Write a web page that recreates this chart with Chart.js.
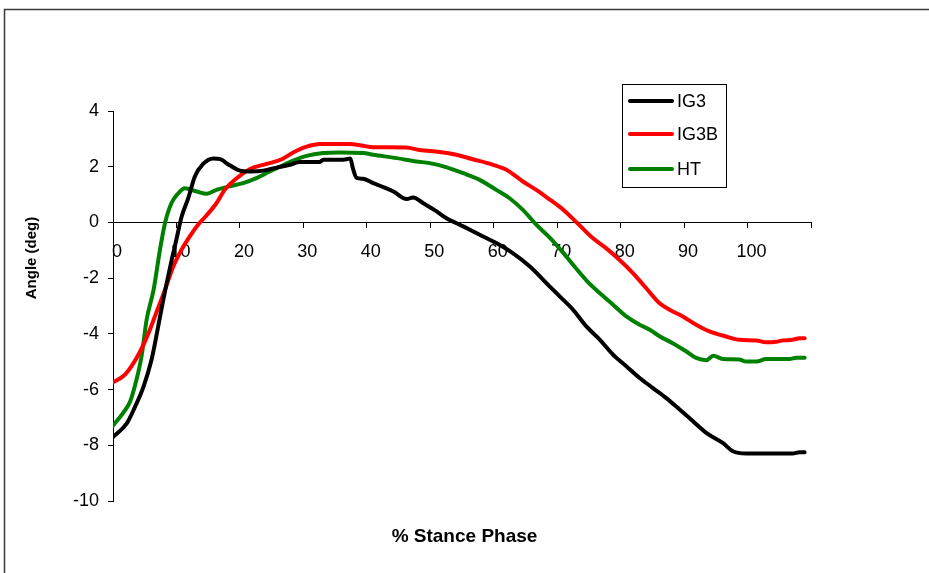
<!DOCTYPE html>
<html><head><meta charset="utf-8">
<script src="https://cdn.jsdelivr.net/npm/chart.js@4"></script>
<style>html,body{margin:0;padding:0;background:#fff;overflow:hidden}canvas{display:block}</style>
</head><body>
<canvas id="c" width="929" height="573"></canvas>
<script>
const seriesNames = ['IG3', 'IG3B', 'HT'];
const seriesColors = ['#000000', '#FF0000', '#008000'];

const ig3X = [0, 2.2, 3.5, 4.8, 6.1, 6.9, 7.9, 9.0, 10.0, 10.8, 11.9, 12.9, 14.2, 15.8, 16.9, 18.4, 20.0, 21.6, 23.7, 25.8, 27.9, 29.4, 32.6, 33.1, 35.8, 36.8, 37.4, 37.8, 38.4, 39.4, 41.0, 42.6, 44.2, 46.3, 47.3, 48.9, 51.0, 52.5, 55.2, 57.8, 60.4, 63.0, 65.7, 68.8, 70.4, 72.5, 74.6, 76.7, 78.8, 80.9, 83.0, 85.1, 87.2, 89.3, 91.4, 93.5, 96.1, 97.7, 99.8, 101.9, 107.1, 108.2, 109];
const ig3Y = [-7.7, -7.2, -6.6, -5.9, -4.9, -4.0, -2.8, -1.6, -0.6, 0.2, 0.9, 1.65, 2.1, 2.3, 2.27, 2.05, 1.86, 1.83, 1.86, 1.97, 2.07, 2.17, 2.17, 2.25, 2.25, 2.27, 2.3, 1.95, 1.6, 1.57, 1.41, 1.27, 1.11, 0.84, 0.9, 0.69, 0.4, 0.16, -0.14, -0.44, -0.74, -1.1, -1.58, -2.29, -2.65, -3.13, -3.73, -4.2, -4.74, -5.16, -5.58, -5.94, -6.3, -6.71, -7.13, -7.55, -7.91, -8.21, -8.29, -8.29, -8.29, -8.24, -8.24];

const ig3bX = [0, 1.6, 2.9, 4.3, 5.6, 6.9, 8.2, 9.5, 10.8, 12.1, 13.4, 14.8, 16.3, 17.6, 19.2, 21.6, 24.2, 26.6, 28.4, 30.5, 32.6, 35.7, 37.3, 39.4, 41.0, 46.2, 48.3, 51.5, 54.1, 56.7, 59.9, 62.0, 64.6, 66.7, 68.9, 71.0, 73.3, 75.6, 77.7, 79.8, 81.9, 84.0, 86.1, 87.7, 89.8, 91.9, 94.0, 96.6, 98.7, 101.4, 102.9, 104.5, 105.6, 107.1, 108.2, 109];
const ig3bY = [-5.73, -5.52, -5.16, -4.62, -3.97, -3.19, -2.41, -1.58, -0.98, -0.5, -0.08, 0.27, 0.69, 1.17, 1.53, 1.92, 2.1, 2.27, 2.51, 2.72, 2.82, 2.82, 2.82, 2.75, 2.7, 2.69, 2.6, 2.53, 2.43, 2.27, 2.07, 1.89, 1.47, 1.17, 0.81, 0.45, -0.05, -0.56, -0.92, -1.34, -1.81, -2.35, -2.89, -3.13, -3.37, -3.67, -3.91, -4.09, -4.21, -4.23, -4.3, -4.28, -4.23, -4.21, -4.15, -4.15];

const htX = [0, 1.6, 2.7, 3.7, 4.5, 5.3, 6.4, 7.4, 8.2, 9.2, 10.3, 11.3, 13.2, 14.8, 16.3, 17.9, 20.5, 22.6, 24.7, 26.3, 28.4, 30.5, 33.1, 35.7, 39.4, 41.0, 44.7, 47.8, 49.9, 52.6, 55.2, 57.8, 60.4, 62.5, 64.6, 66.7, 68.9, 71.0, 72.8, 74.7, 76.7, 78.8, 80.9, 83.0, 84.6, 86.2, 88.2, 90.3, 91.9, 93.5, 94.6, 96.1, 98.7, 99.8, 101.4, 102.9, 106.6, 107.7, 109];
const htY = [-7.29, -6.83, -6.42, -5.64, -4.8, -3.49, -2.41, -0.98, -0.02, 0.69, 1.05, 1.23, 1.11, 1.03, 1.17, 1.27, 1.41, 1.59, 1.83, 2.0, 2.22, 2.39, 2.49, 2.51, 2.49, 2.43, 2.31, 2.19, 2.13, 1.98, 1.77, 1.53, 1.17, 0.87, 0.45, -0.08, -0.56, -1.1, -1.6, -2.1, -2.53, -2.95, -3.37, -3.67, -3.85, -4.09, -4.33, -4.62, -4.86, -4.94, -4.78, -4.9, -4.92, -4.99, -4.99, -4.9, -4.9, -4.85, -4.85];

const xTickValues = [0, 10, 20, 30, 40, 50, 60, 70, 80, 90, 100];
const yTickValues = [-10, -8, -6, -4, -2, 0, 2, 4];
const xTitle = '% Stance Phase';
const yTitle = 'Angle (deg)';

const FONT = '"Liberation Sans", Arial, sans-serif';

function pts(xs, ys) { return xs.map((x, i) => ({ x: x, y: ys[i] })); }

const frame = {
  id: 'frame',
  beforeDraw(chart) {
    const ctx = chart.ctx;
    ctx.save();
    ctx.strokeStyle = '#3a3a3a';
    ctx.lineWidth = 1.5;
    ctx.strokeRect(4.5, 9.5, 1000, 1000);
    ctx.restore();
  }
};

const yTitlePlugin = {
  id: 'yTitlePlugin',
  afterDraw(chart) {
    const ctx = chart.ctx;
    ctx.save();
    ctx.translate(32, 258);
    ctx.rotate(-Math.PI / 2);
    ctx.font = 'bold 15px ' + FONT;
    ctx.textAlign = 'center';
    ctx.textBaseline = 'middle';
    ctx.fillStyle = '#000';
    ctx.fillText(yTitle, 0, 0);
    ctx.restore();
  }
};

const legendBox = {
  id: 'legendBox',
  afterDraw(chart) {
    const ctx = chart.ctx;
    ctx.save();
    ctx.fillStyle = '#fff';
    ctx.fillRect(622.5, 84.5, 104, 103);
    ctx.strokeStyle = '#000';
    ctx.lineWidth = 1;
    ctx.strokeRect(622.5, 84.5, 104, 103);
    const rows = [101, 134, 169];
    chart.data.datasets.forEach((ds, i) => {
      const y = rows[i];
      ctx.beginPath();
      ctx.strokeStyle = ds.borderColor;
      ctx.lineWidth = 4;
      ctx.lineCap = 'round';
      ctx.moveTo(630, y);
      ctx.lineTo(672, y);
      ctx.stroke();
      ctx.fillStyle = '#000';
      ctx.font = '18px ' + FONT;
      ctx.textAlign = 'left';
      ctx.textBaseline = 'middle';
      ctx.fillText(ds.label, 677, y + 1);
    });
    ctx.restore();
  }
};

const datasets = [
  { label: seriesNames[0], data: pts(ig3X, ig3Y), borderColor: seriesColors[0] },
  { label: seriesNames[1], data: pts(ig3bX, ig3bY), borderColor: seriesColors[1] },
  { label: seriesNames[2], data: pts(htX, htY), borderColor: seriesColors[2] }
].map(d => Object.assign(d, {
  borderWidth: 4, pointRadius: 0, fill: false,
  cubicInterpolationMode: 'monotone',
  borderCapStyle: 'round', borderJoinStyle: 'round'
}));

new Chart(document.getElementById('c'), {
  type: 'line',
  data: { datasets: datasets },
  options: {
    responsive: false,
    animation: false,
    devicePixelRatio: 1,
    layout: { padding: { left: 0, top: 111, right: 0, bottom: 0 } },
    plugins: {
      legend: { display: false },
      tooltip: { enabled: false },
      title: {
        display: true, position: 'bottom', text: xTitle, color: '#000',
        font: { family: FONT, size: 19, weight: 'bold' },
        padding: { top: 24, bottom: 25 }
      }
    },
    scales: {
      x: {
        type: 'linear', min: 0, max: 110,
        position: { y: 0 },
        afterBuildTicks(s) { s.ticks = xTickValues.concat([110]).map(v => ({ value: v })); },
        ticks: {
          color: '#000', font: { family: FONT, size: 18 }, padding: 14, labelOffset: 4,
          maxRotation: 0, autoSkip: false,
          callback: v => (xTickValues.includes(v) ? String(v) : '')
        },
        grid: { drawOnChartArea: false, drawTicks: true, tickLength: 5, tickColor: '#000', tickWidth: 1 },
        border: { color: '#000', width: 1 }
      },
      y: {
        type: 'linear', min: -10, max: 4,
        afterBuildTicks(s) { s.ticks = yTickValues.map(v => ({ value: v })); },
        afterFit(s) { s.width = 113; },
        ticks: { color: '#000', font: { family: FONT, size: 18 }, padding: 9 },
        grid: { drawOnChartArea: false, drawTicks: true, tickLength: 5, tickColor: '#000', tickWidth: 1 },
        border: { color: '#000', width: 1 }
      },
      yRight: {
        type: 'linear', position: 'right', display: true,
        afterFit(s) { s.width = 118; },
        ticks: { display: false },
        grid: { display: false, drawTicks: false },
        border: { display: false }
      }
    }
  },
  plugins: [frame, yTitlePlugin, legendBox]
});
</script>
</body></html>
